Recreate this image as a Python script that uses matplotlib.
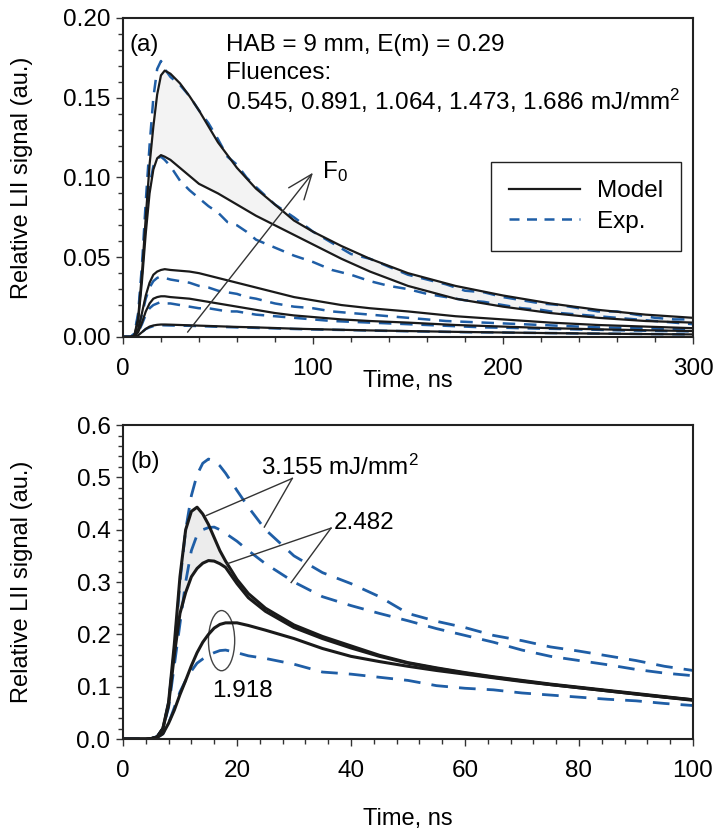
import numpy as np
import matplotlib
matplotlib.use("Agg")
import matplotlib.pyplot as plt
from matplotlib.patches import Ellipse
from matplotlib.ticker import MultipleLocator, FormatStrFormatter

plt.rcParams['font.family'] = ['Liberation Sans', 'DejaVu Sans']
plt.rcParams['mathtext.default'] = 'regular'

# ---- panel (a): HAB = 9 mm, five fluences ----
ta = [0, 4, 6, 8, 10, 12, 14, 16, 18, 20, 22, 25, 30, 35, 40, 50, 60, 70, 80, 90,
      100, 115, 130, 150, 175, 200, 225, 250, 275, 300]
model_a = {
    '1.686': [0, 0, 0.001, 0.012, 0.040, 0.075, 0.108, 0.132, 0.152, 0.164, 0.167, 0.165,
              0.159, 0.151, 0.142, 0.122, 0.106, 0.093, 0.083, 0.073, 0.066, 0.057, 0.049,
              0.040, 0.032, 0.026, 0.021, 0.017, 0.014, 0.012],
    '1.473': [0, 0, 0.001, 0.010, 0.035, 0.065, 0.090, 0.105, 0.112, 0.114, 0.113, 0.111,
              0.106, 0.101, 0.096, 0.090, 0.083, 0.076, 0.070, 0.064, 0.058, 0.049, 0.041,
              0.032, 0.024, 0.019, 0.015, 0.012, 0.010, 0.009],
    '1.064': [0, 0, 0.0005, 0.005, 0.015, 0.026, 0.034, 0.039, 0.041, 0.042, 0.0425, 0.042,
              0.0415, 0.041, 0.040, 0.037, 0.034, 0.031, 0.028, 0.025, 0.023, 0.020, 0.018,
              0.016, 0.013, 0.011, 0.009, 0.0075, 0.0065, 0.0055],
    '0.891': [0, 0, 0.0003, 0.003, 0.009, 0.016, 0.021, 0.024, 0.025, 0.0255, 0.0255, 0.025,
              0.0245, 0.024, 0.023, 0.021, 0.019, 0.017, 0.015, 0.0135, 0.0125, 0.011, 0.010,
              0.009, 0.0075, 0.0065, 0.0055, 0.0048, 0.0042, 0.0037],
    '0.545': [0, 0, 0.0001, 0.001, 0.003, 0.005, 0.0065, 0.0072, 0.0076, 0.0078, 0.0078,
              0.0077, 0.0075, 0.0073, 0.0071, 0.0067, 0.0063, 0.006, 0.0056, 0.0052, 0.0049,
              0.0045, 0.0041, 0.0037, 0.0032, 0.0028, 0.0024, 0.0021, 0.0018, 0.0016],
}

te = [0, 4, 6, 8, 10, 12, 14, 16, 18, 20, 22, 25, 30, 35, 40, 45, 50, 55, 60, 65, 70,
      80, 90, 100, 110, 120, 130, 140, 150, 160, 170, 180, 190, 200, 210, 220, 230, 240,
      250, 260, 270, 280, 290, 300]
exp_a = {
    '1.686': [0, 0, 0.002, 0.015, 0.045, 0.085, 0.120, 0.150, 0.168, 0.173, 0.168, 0.163,
              0.158, 0.151, 0.142, 0.134, 0.124, 0.113, 0.108, 0.100, 0.094, 0.083, 0.075,
              0.066, 0.059, 0.052, 0.049, 0.044, 0.039, 0.036, 0.033, 0.029, 0.028, 0.025,
              0.023, 0.021, 0.020, 0.018, 0.016, 0.016, 0.014, 0.012, 0.011, 0.011],
    '1.473': [0, 0, 0.002, 0.013, 0.040, 0.072, 0.095, 0.107, 0.112, 0.113, 0.111, 0.107,
              0.098, 0.092, 0.087, 0.082, 0.078, 0.072, 0.070, 0.066, 0.061, 0.056, 0.051,
              0.047, 0.042, 0.039, 0.035, 0.032, 0.030, 0.027, 0.025, 0.023, 0.022, 0.020,
              0.018, 0.017, 0.015, 0.014, 0.013, 0.012, 0.011, 0.010, 0.009, 0.008],
    '1.064': [0, 0, 0.001, 0.005, 0.014, 0.024, 0.031, 0.035, 0.037, 0.038, 0.037, 0.036,
              0.035, 0.034, 0.032, 0.031, 0.029, 0.028, 0.027, 0.025, 0.024, 0.021, 0.019,
              0.018, 0.016, 0.015, 0.014, 0.013, 0.012, 0.011, 0.010, 0.0095, 0.009, 0.0085,
              0.008, 0.0075, 0.007, 0.0065, 0.006, 0.0058, 0.0055, 0.0052, 0.005, 0.0048],
    '0.891': [0, 0, 0.0005, 0.003, 0.008, 0.014, 0.018, 0.020, 0.021, 0.022, 0.021, 0.021,
              0.020, 0.019, 0.018, 0.018, 0.017, 0.016, 0.016, 0.015, 0.014, 0.013, 0.012,
              0.011, 0.010, 0.0095, 0.009, 0.0085, 0.008, 0.0075, 0.007, 0.0065, 0.006,
              0.0058, 0.0055, 0.0052, 0.005, 0.0047, 0.0045, 0.0042, 0.004, 0.0038, 0.0036,
              0.0035],
    '0.545': [0, 0, 0.0002, 0.001, 0.003, 0.005, 0.006, 0.0068, 0.0072, 0.0074, 0.0073,
              0.0072, 0.0071, 0.007, 0.0068, 0.0066, 0.0064, 0.0062, 0.006, 0.0059, 0.0057,
              0.0054, 0.005, 0.0047, 0.0045, 0.0043, 0.004, 0.0038, 0.0036, 0.0034, 0.0032,
              0.003, 0.0029, 0.0028, 0.0026, 0.0025, 0.0024, 0.0022, 0.0021, 0.002, 0.0019,
              0.0018, 0.0017, 0.0016],
}

# ---- panel (b): higher fluences, first 100 ns ----
tb = [0, 4, 5, 6, 7, 8, 9, 10, 11, 12, 13, 14, 15, 16, 17, 18, 20, 22, 25, 30, 35, 40,
      45, 50, 55, 60, 65, 70, 75, 80, 85, 90, 95, 100]
model_b = {
    '3.155': [0, 0, 0.001, 0.004, 0.02, 0.07, 0.18, 0.31, 0.40, 0.435, 0.443, 0.43, 0.41,
              0.385, 0.36, 0.34, 0.305, 0.278, 0.25, 0.218, 0.196, 0.178, 0.160, 0.146,
              0.136, 0.127, 0.119, 0.112, 0.105, 0.099, 0.093, 0.087, 0.081, 0.075],
    '2.482': [0, 0, 0.001, 0.004, 0.02, 0.065, 0.16, 0.24, 0.28, 0.31, 0.326, 0.336, 0.341,
              0.340, 0.335, 0.328, 0.297, 0.270, 0.244, 0.213, 0.192, 0.174, 0.158, 0.145,
              0.135, 0.126, 0.118, 0.111, 0.104, 0.098, 0.092, 0.086, 0.080, 0.074],
    '1.918': [0, 0, 0.001, 0.003, 0.010, 0.030, 0.055, 0.085, 0.112, 0.140, 0.165, 0.185,
              0.200, 0.212, 0.219, 0.222, 0.222, 0.217, 0.208, 0.192, 0.173, 0.158, 0.148,
              0.139, 0.131, 0.124, 0.117, 0.110, 0.104, 0.098, 0.092, 0.086, 0.080, 0.075],
}
exp_b = {
    '3.155': [0, 0, 0.001, 0.005, 0.02, 0.07, 0.17, 0.30, 0.40, 0.465, 0.505, 0.527, 0.535,
              0.532, 0.522, 0.508, 0.475, 0.443, 0.40, 0.350, 0.318, 0.297, 0.272, 0.240,
              0.225, 0.213, 0.198, 0.188, 0.176, 0.168, 0.159, 0.150, 0.139, 0.131],
    '2.482': [0, 0, 0.001, 0.004, 0.02, 0.06, 0.14, 0.22, 0.30, 0.36, 0.39, 0.40, 0.404,
              0.405, 0.400, 0.393, 0.378, 0.360, 0.335, 0.300, 0.272, 0.255, 0.240, 0.226,
              0.211, 0.198, 0.185, 0.170, 0.158, 0.150, 0.142, 0.133, 0.126, 0.121],
    '1.918': [0, 0, 0.001, 0.003, 0.010, 0.030, 0.060, 0.090, 0.112, 0.130, 0.145, 0.153,
              0.160, 0.165, 0.169, 0.170, 0.165, 0.159, 0.154, 0.143, 0.128, 0.124, 0.118,
              0.112, 0.102, 0.097, 0.094, 0.088, 0.084, 0.080, 0.076, 0.073, 0.068, 0.064],
}

BLUE = '#1f5ea6'
FS = 17.5      # annotation / legend text
TFS = 17.5     # tick labels
LFS = 17       # axis labels

fig = plt.figure(figsize=(7.17, 8.38), dpi=100)
ax1 = fig.add_axes([0.1715, 0.5979, 0.7950, 0.3807])
ax2 = fig.add_axes([0.1715, 0.1181, 0.7950, 0.3747])

# panel (a)
ax1.fill_between(ta, model_a['1.686'], model_a['1.473'], color='#f3f3f3', lw=0)
for k in exp_a:
    ax1.plot(te, exp_a[k], color=BLUE, lw=1.8, dashes=(5, 3.5))
for k in model_a:
    ax1.plot(ta, model_a[k], color='#1a1a1a', lw=1.6)
ax1.plot([], [], color='#1a1a1a', lw=1.6, label='Model')
ax1.plot([], [], color=BLUE, lw=1.8, dashes=(4, 3), label='Exp.')

ax1.annotate('', xy=(100, 0.103), xytext=(34, 0.003),
             arrowprops=dict(arrowstyle='->,head_length=0.9,head_width=0.35',
                             lw=1.0, color='#333333', mutation_scale=20, shrinkA=0, shrinkB=0))
ax1.text(105, 0.104, 'F$_0$', fontsize=FS, va='center', ha='left')
ax1.text(3.5, 0.183, '(a)', fontsize=FS, va='center', ha='left')
ax1.text(54, 0.183, 'HAB = 9 mm, E(m) = 0.29', fontsize=FS, va='center', ha='left')
ax1.text(54, 0.1655, 'Fluences:', fontsize=FS, va='center', ha='left')
ax1.text(54, 0.148, '0.545, 0.891, 1.064, 1.473, 1.686 mJ/mm$^2$', fontsize=FS,
         va='center', ha='left')

leg = ax1.legend(loc='upper left', bbox_to_anchor=(0.646, 0.549), fontsize=FS,
                 frameon=True, fancybox=False, edgecolor='#222222', framealpha=1,
                 handlelength=2.9, handletextpad=0.7, borderpad=0.75, labelspacing=0.35,
                 borderaxespad=0)
leg.get_frame().set_linewidth(1.0)

ax1.set_xlim(0, 300)
ax1.set_ylim(0, 0.20)
ax1.xaxis.set_major_locator(MultipleLocator(100))
ax1.xaxis.set_minor_locator(MultipleLocator(20))
ax1.yaxis.set_major_locator(MultipleLocator(0.05))
ax1.yaxis.set_minor_locator(MultipleLocator(0.01))
ax1.yaxis.set_major_formatter(FormatStrFormatter('%.2f'))

# panel (b)
tb_arr = np.array(tb)
ax2.fill_between(tb, model_b['3.155'], model_b['2.482'], where=tb_arr <= 25,
                 color='#ececec', lw=0)
for k in exp_b:
    ax2.plot(tb, exp_b[k], color=BLUE, lw=2.0, dashes=(6, 4))
for k in model_b:
    ax2.plot(tb, model_b[k], color='#1a1a1a', lw=2.2)

ax2.text(1.4, 0.53, '(b)', fontsize=FS, va='center', ha='left')
ax2.text(24.3, 0.52, '3.155 mJ/mm$^2$', fontsize=FS, va='center', ha='left')
ax2.text(37.0, 0.412, '2.482', fontsize=FS, va='center', ha='left')
ax2.text(15.7, 0.092, '1.918', fontsize=FS, va='center', ha='left')
lc = '#333333'
ax2.plot([29.7, 14.6], [0.498, 0.427], color=lc, lw=1.0)
ax2.plot([29.7, 24.8], [0.498, 0.405], color=lc, lw=1.0)
ax2.plot([36.5, 18.3], [0.403, 0.335], color=lc, lw=1.0)
ax2.plot([36.5, 29.5], [0.403, 0.299], color=lc, lw=1.0)
ax2.add_patch(Ellipse((17.3, 0.188), width=4.6, height=0.115, fill=False,
                      edgecolor='#444444', lw=1.0))

ax2.set_xlim(0, 100)
ax2.set_ylim(0, 0.6)
ax2.xaxis.set_major_locator(MultipleLocator(20))
ax2.xaxis.set_minor_locator(MultipleLocator(4))
ax2.yaxis.set_major_locator(MultipleLocator(0.1))
ax2.yaxis.set_minor_locator(MultipleLocator(0.02))
ax2.yaxis.set_major_formatter(FormatStrFormatter('%.1f'))

for ax, xlab_y in ((ax1, -0.105), (ax2, -0.22)):
    ax.tick_params(which='both', direction='out', labelsize=TFS, width=1.0, color='#333333')
    ax.tick_params(which='major', length=5)
    ax.tick_params(which='minor', length=3.5)
    ax.tick_params(axis='x', pad=10)
    ax.tick_params(axis='y', pad=4)
    for sp in ax.spines.values():
        sp.set_linewidth(1.5)
        sp.set_color('#222222')
    ax.set_ylabel('Relative LII signal (au.)', fontsize=LFS)
    ax.set_xlabel('Time, ns', fontsize=LFS)
    ax.yaxis.set_label_coords(-0.158, 0.5)
    ax.xaxis.set_label_coords(0.5, xlab_y)

fig.savefig('out.png', dpi=100)
